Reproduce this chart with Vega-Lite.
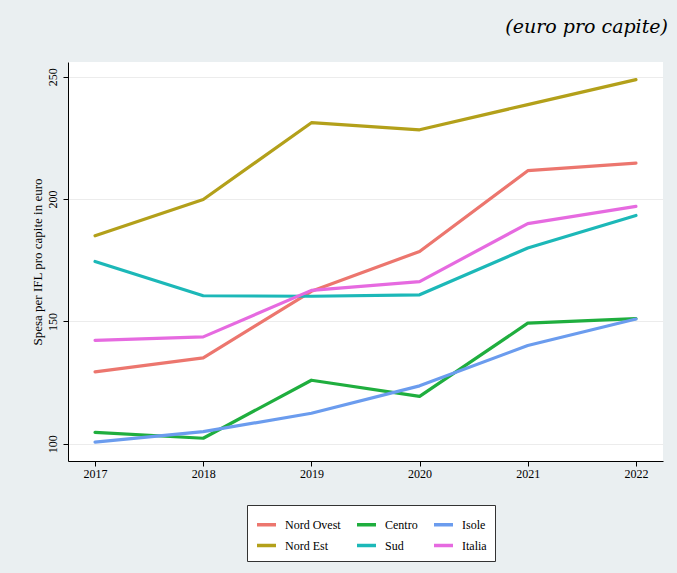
{
  "$schema": "https://vega.github.io/schema/vega-lite/v6.json",
  "autosize": {"type": "none"},
  "width": 595,
  "height": 399,
  "padding": {"left": 68, "top": 62, "right": 14, "bottom": 112},
  "background": "#eaeff1",
  "title": {
    "text": "(euro pro capite)",
    "anchor": "end",
    "offset": 25,
    "dx": 5
  },
  "config": {
    "view": {"fill": "#ffffff", "stroke": null},
    "font": "Liberation Serif",
    "title": {
      "font": "DejaVu Serif",
      "fontStyle": "italic",
      "fontWeight": "normal",
      "fontSize": 19,
      "color": "#000000"
    }
  },
  "data": {
    "values": [
      {"anno": 2017, "area": "Nord Ovest", "v": 129.4},
      {"anno": 2018, "area": "Nord Ovest", "v": 135.1},
      {"anno": 2019, "area": "Nord Ovest", "v": 162.3},
      {"anno": 2020, "area": "Nord Ovest", "v": 178.6},
      {"anno": 2021, "area": "Nord Ovest", "v": 211.6},
      {"anno": 2022, "area": "Nord Ovest", "v": 214.7},
      {"anno": 2017, "area": "Nord Est", "v": 185.0},
      {"anno": 2018, "area": "Nord Est", "v": 199.8},
      {"anno": 2019, "area": "Nord Est", "v": 231.2},
      {"anno": 2020, "area": "Nord Est", "v": 228.3},
      {"anno": 2021, "area": "Nord Est", "v": 238.6},
      {"anno": 2022, "area": "Nord Est", "v": 248.8},
      {"anno": 2017, "area": "Centro", "v": 104.7},
      {"anno": 2018, "area": "Centro", "v": 102.3},
      {"anno": 2019, "area": "Centro", "v": 126.0},
      {"anno": 2020, "area": "Centro", "v": 119.4},
      {"anno": 2021, "area": "Centro", "v": 149.3},
      {"anno": 2022, "area": "Centro", "v": 151.2},
      {"anno": 2017, "area": "Sud", "v": 174.5},
      {"anno": 2018, "area": "Sud", "v": 160.5},
      {"anno": 2019, "area": "Sud", "v": 160.3},
      {"anno": 2020, "area": "Sud", "v": 160.9},
      {"anno": 2021, "area": "Sud", "v": 180.0},
      {"anno": 2022, "area": "Sud", "v": 193.3},
      {"anno": 2017, "area": "Isole", "v": 100.7},
      {"anno": 2018, "area": "Isole", "v": 105.0},
      {"anno": 2019, "area": "Isole", "v": 112.5},
      {"anno": 2020, "area": "Isole", "v": 123.7},
      {"anno": 2021, "area": "Isole", "v": 140.2},
      {"anno": 2022, "area": "Isole", "v": 151.0},
      {"anno": 2017, "area": "Italia", "v": 142.3},
      {"anno": 2018, "area": "Italia", "v": 143.7},
      {"anno": 2019, "area": "Italia", "v": 162.7},
      {"anno": 2020, "area": "Italia", "v": 166.3},
      {"anno": 2021, "area": "Italia", "v": 190.0},
      {"anno": 2022, "area": "Italia", "v": 197.0}
    ]
  },
  "mark": {"type": "line", "strokeWidth": 3.2, "strokeCap": "round", "strokeJoin": "round"},
  "encoding": {
    "x": {
      "field": "anno",
      "type": "quantitative",
      "scale": {"domain": [2016.75, 2022.25], "nice": false, "zero": false},
      "axis": {
        "values": [2017, 2018, 2019, 2020, 2021, 2022],
        "format": "d",
        "title": null,
        "grid": false,
        "domainColor": "#000000",
        "domainWidth": 1,
        "tickColor": "#000000",
        "tickSize": 5,
        "labelFont": "Liberation Serif",
        "labelFontSize": 12,
        "labelColor": "#000000",
        "labelPadding": 2
      }
    },
    "y": {
      "field": "v",
      "type": "quantitative",
      "scale": {"domain": [93, 256], "nice": false, "zero": false},
      "axis": {
        "values": [100, 150, 200, 250],
        "title": "Spesa per IFL pro capite in euro",
        "titleFont": "Liberation Serif",
        "titleFontSize": 13,
        "titleFontWeight": "normal",
        "titleColor": "#000000",
        "titlePadding": 2,
        "grid": true,
        "gridColor": "#ececec",
        "gridWidth": 1,
        "domainColor": "#000000",
        "domainWidth": 1,
        "tickColor": "#000000",
        "tickSize": 5,
        "labelFont": "Liberation Serif",
        "labelFontSize": 12,
        "labelColor": "#000000",
        "labelAngle": -90,
        "labelAlign": "center",
        "labelBaseline": "bottom",
        "labelPadding": 4
      }
    },
    "color": {
      "field": "area",
      "type": "nominal",
      "scale": {
        "domain": ["Nord Ovest", "Centro", "Isole", "Nord Est", "Sud", "Italia"],
        "range": ["#ec766e", "#1fae3e", "#6b9cee", "#b3a01a", "#1cb8b8", "#e66ae0"]
      },
      "legend": {
        "title": null,
        "orient": "none",
        "legendX": 179,
        "legendY": 443,
        "columns": 3,
        "direction": "horizontal",
        "fillColor": "#ffffff",
        "strokeColor": "#333333",
        "padding": 8,
        "symbolType": "stroke",
        "symbolSize": 361,
        "symbolStrokeWidth": 3.5,
        "labelFont": "Liberation Serif",
        "labelFontSize": 12,
        "labelColor": "#000000",
        "labelOffset": 7,
        "columnPadding": 9,
        "rowPadding": 2
      }
    }
  }
}
